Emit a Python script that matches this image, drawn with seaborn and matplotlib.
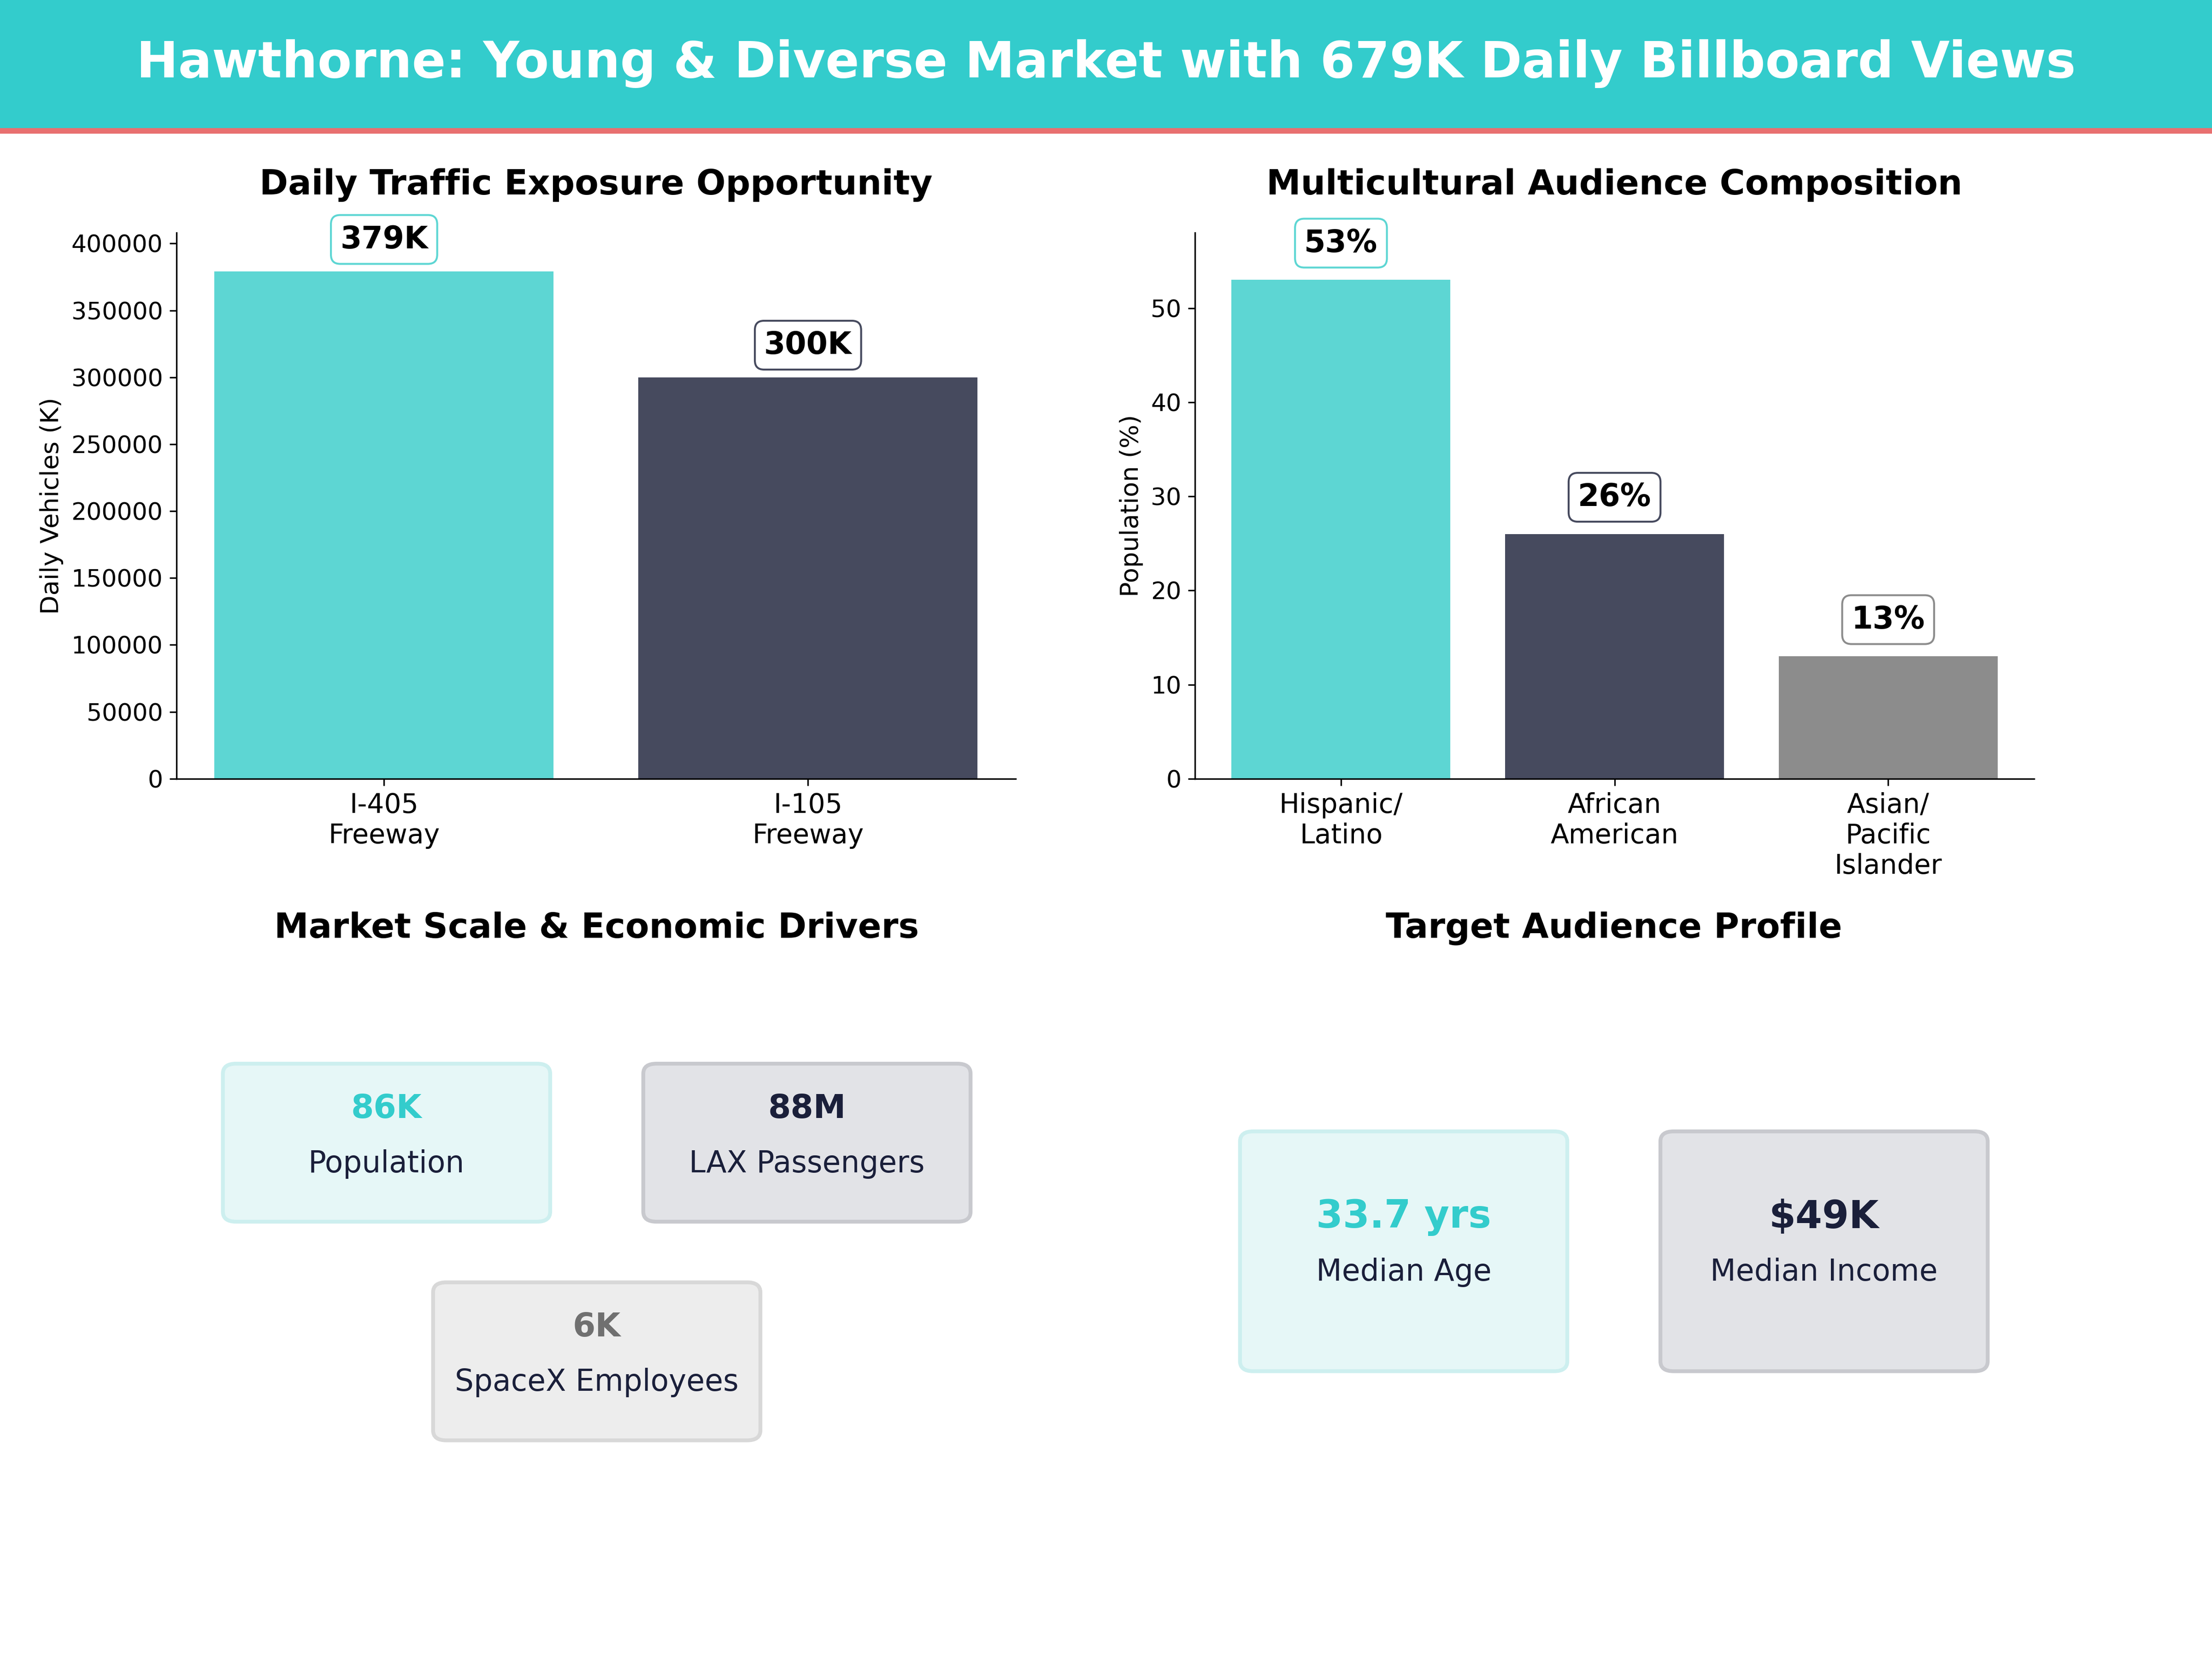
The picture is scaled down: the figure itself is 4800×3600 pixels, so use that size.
import matplotlib
matplotlib.use("Agg")
import matplotlib.pyplot as plt
import seaborn as sns
import pandas as pd
from matplotlib.patches import FancyBboxPatch, Rectangle

roads = ["I-405\nFreeway", "I-105\nFreeway"]
traffic = [379000, 300000]
traffic_labels = ["379K", "300K"]
groups = ["Hispanic/\nLatino", "African\nAmerican", "Asian/\nPacific\nIslander"]
shares = [53, 26, 13]
share_labels = ["53%", "26%", "13%"]
market_values = ["86K", "88M", "6K"]
market_names = ["Population", "LAX Passengers", "SpaceX Employees"]
profile_values = ["33.7 yrs", "$49K"]
profile_names = ["Median Age", "Median Income"]

TEAL = "#5DD6D3"; DARK = "#464A5E"; GRAY = "#8C8C8C"; HEAD = "#33CCCC"

W, H = 1568, 1176
fig = plt.figure(figsize=(16, 12), dpi=300)
fig.patches.append(Rectangle((0, 1 - 92 / H), 1, 92 / H, transform=fig.transFigure, color=HEAD, zorder=0))
fig.patches.append(Rectangle((0, 1 - 94 / H), 1, 2.5 / H, transform=fig.transFigure, color="#E87070", zorder=0))
fig.text(0.5, 1 - 45 / H, "Hawthorne: Young & Diverse Market with 679K Daily Billboard Views",
         ha="center", va="center", color="white", fontsize=26, fontweight="bold")

def ax_rect(x0, x1, y0, y1):
    return [x0 / W, 1 - y1 / H, (x1 - x0) / W, (y1 - y0) / H]

def bar_panel(ax, cats, vals, labels, colors, title, ylabel, off, xl):
    df = pd.DataFrame({"c": cats, "v": vals})
    sns.barplot(data=df, x="c", y="v", hue="c", palette=colors, legend=False, ax=ax, width=0.8, saturation=1)
    ax.set_title(title, fontsize=18, fontweight="bold", pad=20)
    ax.set_xlabel(""); ax.set_ylabel(ylabel, fontsize=13)
    ax.tick_params(axis="x", labelsize=14); ax.tick_params(axis="y", labelsize=12.5)
    ax.set_xlim(*xl)
    sns.despine(ax=ax)
    for i, (v, l, c) in enumerate(zip(vals, labels, colors)):
        ax.text(i, v + off, l, ha="center", va="center", fontsize=16, fontweight="bold",
                bbox=dict(boxstyle="round,pad=0.3", fc="white", ec=c, lw=1))

ax1 = fig.add_axes(ax_rect(125, 720, 165, 552))
bar_panel(ax1, roads, traffic, traffic_labels, [TEAL, DARK], "Daily Traffic Exposure Opportunity",
          "Daily Vehicles (K)", 24000, (-0.49, 1.49))
ax1.set_ylim(0, 408000)
ax2 = fig.add_axes(ax_rect(847, 1442, 165, 552))
bar_panel(ax2, groups, shares, share_labels, [TEAL, DARK, GRAY], "Multicultural Audience Composition",
          "Population (%)", 3.9, (-0.534, 2.534))
ax2.set_ylim(0, 58)

fig.text(423 / W, 1 - 658 / H, "Market Scale & Economic Drivers", ha="center", va="center", fontsize=18, fontweight="bold")
fig.text(1144 / W, 1 - 658 / H, "Target Audience Profile", ha="center", va="center", fontsize=18, fontweight="bold")

styles = [("#E6F7F7", "#CDEFEF", "#33CCCC"), ("#E2E3E7", "#C8C9CE", "#1A1F3A"), ("#EDEDED", "#D8D8D8", "#707070")]

def card(x0, x1, y0, y1, val, name, st):
    fc, ec, vc = st
    fig.patches.append(FancyBboxPatch((x0 / W, 1 - y1 / H), (x1 - x0) / W, (y1 - y0) / H,
                                      boxstyle="round,pad=0,rounding_size=0.006", transform=fig.transFigure,
                                      fc=fc, ec=ec, lw=2))
    cx = (x0 + x1) / 2 / W; cy = (y0 + y1) / 2
    fig.text(cx, 1 - (cy - 24) / H, val, ha="center", va="center", fontsize=17 if (y1 - y0) < 150 else 20,
             fontweight="bold", color=vc)
    fig.text(cx, 1 - (cy + 15) / H, name, ha="center", va="center", fontsize=15.5, color="#1A1F3A")

card(158, 390, 754, 866, market_values[0], market_names[0], styles[0])
card(456, 688, 754, 866, market_values[1], market_names[1], styles[1])
card(307, 539, 909, 1021, market_values[2], market_names[2], styles[2])
card(879, 1111, 802, 972, profile_values[0], profile_names[0], styles[0])
card(1177, 1409, 802, 972, profile_values[1], profile_names[1], styles[1])

fig.savefig("out.png", dpi=300, facecolor="white")
